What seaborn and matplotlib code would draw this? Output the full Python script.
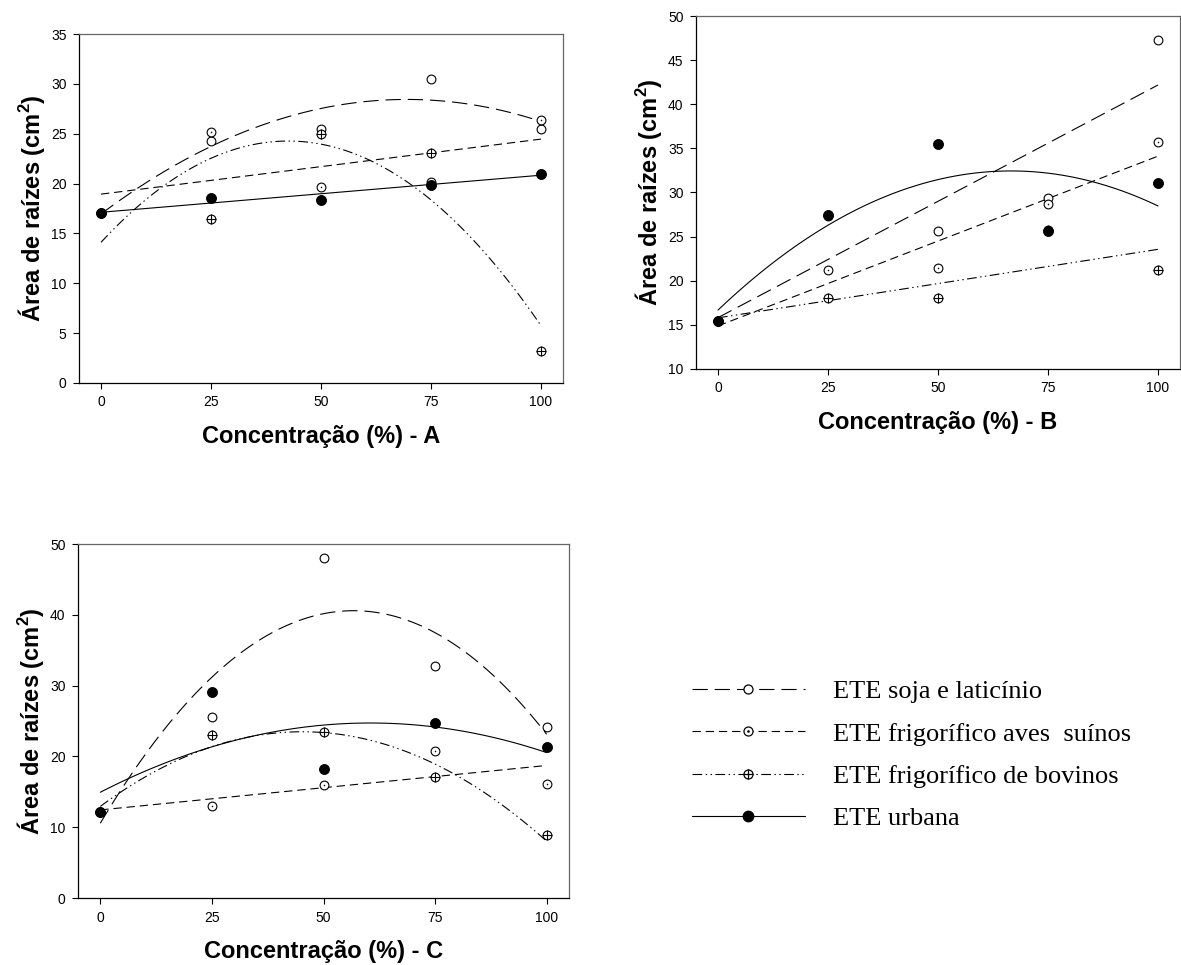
import numpy as np
import matplotlib
matplotlib.use("Agg")
import matplotlib.pyplot as plt
import seaborn as sns
from matplotlib.lines import Line2D
from matplotlib.legend_handler import HandlerLine2D, HandlerTuple
from matplotlib.font_manager import FontProperties

# ---------------- data ----------------
conc = [0, 25, 50, 75, 100]
series_names = ["ETE soja e laticínio", "ETE frigorífico aves  suínos",
                "ETE frigorífico de bovinos", "ETE urbana"]

a_soja = [17.0, 24.3, 25.5, 30.5, 25.5]
a_aves = [17.0, 25.2, 19.7, 20.2, 26.4]
a_bov = [17.0, 16.4, 25.0, 23.1, 3.2]
a_urb = [17.0, 18.6, 18.4, 19.9, 21.0]

b_soja = [15.4, 27.3, 25.6, 29.4, 47.3]
b_aves = [15.4, 21.2, 21.5, 28.7, 35.7]
b_bov = [15.4, 18.0, 18.0, 25.8, 21.2]
b_urb = [15.4, 27.5, 35.5, 25.6, 31.1]

c_soja = [12.1, 25.5, 48.0, 32.7, 24.2]
c_aves = [12.1, 13.0, 16.0, 20.7, 16.1]
c_bov = [12.1, 23.0, 23.5, 17.1, 8.9]
c_urb = [12.1, 29.1, 18.2, 24.7, 21.3]

# regression order of each fitted curve (soja, aves, bovinos, urbana)
a_orders = [2, 1, 2, 1]
b_orders = [1, 1, 1, 2]
c_orders = [2, 1, 2, 2]

x_ticks = [0, 25, 50, 75, 100]
a_yticks = [0, 5, 10, 15, 20, 25, 30, 35]
b_yticks = [10, 15, 20, 25, 30, 35, 40, 45, 50]
c_yticks = [0, 10, 20, 30, 40, 50]
x_labels = ["Concentração (%) - A", "Concentração (%) - B", "Concentração (%) - C"]
y_label = r"Área de raízes (cm$^{\mathbf{2}}$)"

# ---------------- style ----------------
sns.set_style("ticks")
plt.rcParams["font.family"] = ["Liberation Sans", "DejaVu Sans"]
plt.rcParams["mathtext.fontset"] = "custom"
plt.rcParams["mathtext.rm"] = "Liberation Sans"
plt.rcParams["mathtext.bf"] = "Liberation Sans:bold"
plt.rcParams["lines.scale_dashes"] = False
plt.rcParams["text.color"] = "black"
plt.rcParams["axes.labelcolor"] = "black"

LS = [(0, (11, 5)), (0, (6, 3.5)), (0, (7, 2.5, 1, 2.5, 1, 2.5)), "-"]
LW = 0.8
MS = 40  # scatter area

fig = plt.figure(figsize=(11.81, 9.65), dpi=100)
W, H = 1181, 965


def add_axes(l, t, r, b):
    return fig.add_axes([l / W, 1 - b / H, (r - l) / W, (b - t) / H])


axA = add_axes(79, 34, 563, 383)
axB = add_axes(696, 16, 1180, 369)
axC = add_axes(78, 544, 569, 898)


def draw_markers(ax, vals, kind):
    if kind == 3:
        sns.scatterplot(x=conc, y=vals, marker="o", s=MS * 1.3, color="black",
                        edgecolor="black", linewidth=0.6, ax=ax, zorder=5)
        return
    sns.scatterplot(x=conc, y=vals, marker="o", s=MS, facecolor="white",
                    edgecolor="black", linewidth=0.8, ax=ax, zorder=4)
    if kind == 1:
        sns.scatterplot(x=conc, y=vals, marker=".", s=2.5, color="black",
                        edgecolor="black", linewidth=0.3, ax=ax, zorder=4.5)
    elif kind == 2:
        sns.scatterplot(x=conc, y=vals, marker="+", s=MS * 1.1, color="black",
                        linewidth=0.8, ax=ax, zorder=4.5)


def panel(ax, series, orders, yticks, xlabel):
    for i, (vals, order) in enumerate(zip(series, orders)):
        sns.regplot(x=conc, y=vals, order=order, ci=None, scatter=False, ax=ax,
                    line_kws=dict(color="black", lw=LW, linestyle=LS[i], zorder=2))
    for i in [3, 0, 1, 2]:
        draw_markers(ax, series[i], i)
    ax.set_xlim(-5, 105)
    ax.set_ylim(yticks[0], yticks[-1])
    ax.set_xticks(x_ticks)
    ax.set_yticks(yticks)
    ax.tick_params(direction="out", length=4, width=0.8, labelsize=10, pad=5,
                   colors="black")
    for s in ["left", "bottom"]:
        ax.spines[s].set_color("black")
        ax.spines[s].set_linewidth(0.9)
    for s in ["top", "right"]:
        ax.spines[s].set_visible(True)
        ax.spines[s].set_color("#666666")
        ax.spines[s].set_linewidth(0.9)
    ax.set_xlabel(xlabel, fontsize=17, fontweight="bold", labelpad=11,
                  color="black")
    ax.set_ylabel(y_label, fontsize=17, fontweight="bold", labelpad=3,
                  color="black")


panel(axA, [a_soja, a_aves, a_bov, a_urb], a_orders, a_yticks, x_labels[0])
panel(axB, [b_soja, b_aves, b_bov, b_urb], b_orders, b_yticks, x_labels[1])
panel(axC, [c_soja, c_aves, c_bov, c_urb], c_orders, c_yticks, x_labels[2])


# ---------------- legend ----------------
class MarkerLeft(HandlerLine2D):
    def get_xdata(self, legend, xdescent, ydescent, width, height, fontsize):
        xdata = np.array([-xdescent, -xdescent + width])
        xm = np.array([-xdescent + 0.33 * width])
        return xdata, xm


h_soja = Line2D([], [], color="black", lw=LW, linestyle=LS[0], marker="o",
                markersize=6.5, mfc="white", mec="black", mew=0.9)
h_aves = (Line2D([], [], color="black", lw=LW, linestyle=LS[1], marker="o",
                 markersize=6.5, mfc="white", mec="black", mew=0.9),
          Line2D([], [], linestyle="none", marker=".", markersize=1.8, color="black"))
h_bov = (Line2D([], [], color="black", lw=LW, linestyle=LS[2], marker="o",
                markersize=6.5, mfc="white", mec="black", mew=0.9),
         Line2D([], [], linestyle="none", marker="+", markersize=7.5, mew=0.9, color="black"))
h_urb = Line2D([], [], color="black", lw=LW, linestyle="-", marker="o",
               markersize=7.5, mfc="black", mec="black")

fig.legend([h_soja, h_aves, h_bov, h_urb], series_names,
           loc="upper left", bbox_to_anchor=(692 / W, 1 - 680 / H),
           frameon=False, prop=FontProperties(family="Liberation Serif", size=19),
           handlelength=4.28, handletextpad=1.06, labelspacing=0.71,
           borderpad=0, borderaxespad=0,
           handler_map={Line2D: MarkerLeft(), tuple: HandlerTuple(ndivide=1, pad=0)})

fig.savefig("out.png", dpi=100)
